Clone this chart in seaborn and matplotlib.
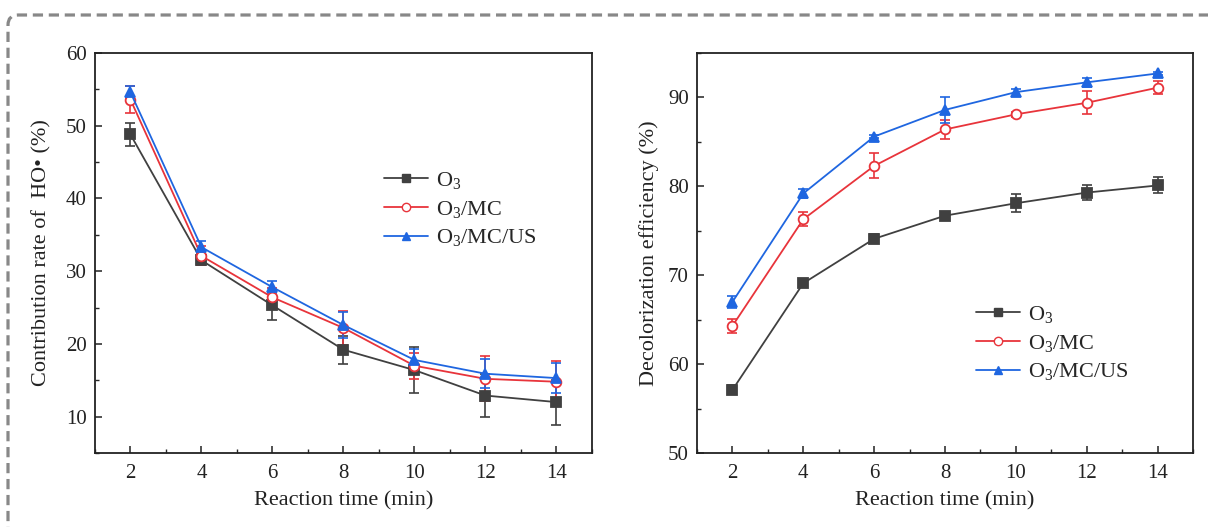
import numpy as np
import pandas as pd
import seaborn as sns
import matplotlib.pyplot as plt
from matplotlib.patches import FancyBboxPatch
from matplotlib.ticker import MultipleLocator

# ------------------- Data -------------------
time_min = [2, 4, 6, 8, 10, 12, 14]
series_names = ['O3', 'O3/MC', 'O3/MC/US']
series_labels = [r'$\mathregular{O_3}$', r'$\mathregular{O_3}$/MC', r'$\mathregular{O_3}$/MC/US']

# left panel: contribution rate of HO• (%)
ho_o3 = [48.8, 31.5, 25.3, 19.2, 16.4, 12.9, 12.0]
ho_o3_err = [1.6, 0.6, 2.0, 1.9, 3.2, 3.0, 3.1]
ho_mc = [53.6, 32.1, 26.4, 22.2, 17.0, 15.2, 14.8]
ho_mc_err = [1.8, 1.3, 1.3, 2.3, 1.8, 3.1, 2.9]
ho_us = [54.6, 33.3, 27.8, 22.6, 17.8, 15.9, 15.3]
ho_us_err = [0.8, 0.8, 0.8, 1.8, 1.5, 2.0, 2.1]

# right panel: decolorization efficiency (%)
de_o3 = [57.1, 69.1, 74.1, 76.7, 78.1, 79.3, 80.1]
de_o3_err = [0.5, 0.3, 0.5, 0.3, 1.0, 0.8, 0.9]
de_mc = [64.3, 76.3, 82.3, 86.4, 88.1, 89.4, 91.1]
de_mc_err = [0.8, 0.8, 1.4, 1.1, 0.3, 1.3, 0.7]
de_us = [67.0, 79.2, 85.6, 88.6, 90.6, 91.7, 92.7]
de_us_err = [0.7, 0.5, 0.2, 1.5, 0.4, 0.5, 0.2]

colors = {'O3': '#404040', 'O3/MC': '#e8343b', 'O3/MC/US': '#1f66e0'}
markers = {'O3': 's', 'O3/MC': 'o', 'O3/MC/US': '^'}
faces = {'O3': '#404040', 'O3/MC': 'white', 'O3/MC/US': '#1f66e0'}


def to_long(a, b, c):
    rows = []
    for name, vals in zip(series_names, [a, b, c]):
        for t, v in zip(time_min, vals):
            rows.append({'time': t, 'value': v, 'group': name})
    return pd.DataFrame(rows)


sns.set_theme(style='ticks')
plt.rcParams['font.family'] = ['Liberation Serif', 'DejaVu Serif']
plt.rcParams['mathtext.fontset'] = 'custom'
plt.rcParams['mathtext.rm'] = 'Liberation Serif'
plt.rcParams['xtick.direction'] = 'in'
plt.rcParams['ytick.direction'] = 'in'

fig = plt.figure(figsize=(12.08, 5.27), dpi=100)
ax1 = fig.add_axes([0.0786, 0.1404, 0.4114, 0.759])
ax2 = fig.add_axes([0.577, 0.1404, 0.4106, 0.759])

panels = [
    (ax1, to_long(ho_o3, ho_mc, ho_us), [ho_o3_err, ho_mc_err, ho_us_err],
     'Contribution rate of  HO• (%)', (5, 60), 10, 5, (0.563, 0.73), 10),
    (ax2, to_long(de_o3, de_mc, de_us), [de_o3_err, de_mc_err, de_us_err],
     'Decolorization efficiency (%)', (50, 95), 10, 5, (0.544, 0.395), 6),
]

for ax, df, errs, ylabel, ylim, ymaj, ymin, leg_pos, ypad in panels:
    for name, err in zip(series_names, errs):
        sub = df[df['group'] == name]
        ax.errorbar(sub['time'], sub['value'], yerr=err, fmt='none',
                    ecolor=colors[name], elinewidth=1.2, capsize=3.5, capthick=1.2, zorder=2)
    sns.lineplot(data=df, x='time', y='value', hue='group', style='group',
                 palette=colors, markers=markers, dashes=False, ax=ax,
                 linewidth=1.3, markersize=7, legend=False, zorder=3)
    # set marker faces
    for line, name in zip(ax.get_lines()[-3:], series_names):
        line.set_markerfacecolor(faces[name])
        line.set_markeredgecolor(colors[name])
        line.set_markeredgewidth(1.3)

    ax.set_xlim(1, 15)
    ax.set_ylim(*ylim)
    ax.xaxis.set_major_locator(MultipleLocator(2))
    ax.xaxis.set_minor_locator(MultipleLocator(1))
    ax.yaxis.set_major_locator(MultipleLocator(ymaj))
    ax.yaxis.set_minor_locator(MultipleLocator(ymin))
    ax.tick_params(which='major', length=5, width=1.1, labelsize=15, colors='#222222', pad=6)
    ax.tick_params(axis='x', which='major', pad=8)
    ax.tick_params(which='minor', length=3, width=1.0)
    for s in ax.spines.values():
        s.set_linewidth(1.3)
        s.set_color('#222222')
    ax.set_xlabel('Reaction time (min)', fontsize=16, color='#222222', labelpad=6)
    ax.set_ylabel(ylabel, fontsize=16, color='#222222', labelpad=ypad)

    handles = []
    for name, lab in zip(series_names, series_labels):
        h, = ax.plot([], [], color=colors[name], marker=markers[name], markersize=6,
                     markerfacecolor=faces[name], markeredgecolor=colors[name], linewidth=1.3)
        handles.append(h)
    ax.legend(handles, series_labels, loc='upper left', bbox_to_anchor=leg_pos,
              frameon=False, fontsize=16, handlelength=2.0, handletextpad=0.35,
              labelspacing=0.35, borderaxespad=0)

# dashed rounded frame around the figure
frame = FancyBboxPatch((8, -40), 1250, 552, boxstyle='round,pad=0,rounding_size=10',
                       transform=None, fill=False, edgecolor='#888888', linewidth=2.3,
                       linestyle=(0, (3.2, 1.8)), clip_on=False)
fig.patches.append(frame)

fig.savefig('out.png', dpi=100)
